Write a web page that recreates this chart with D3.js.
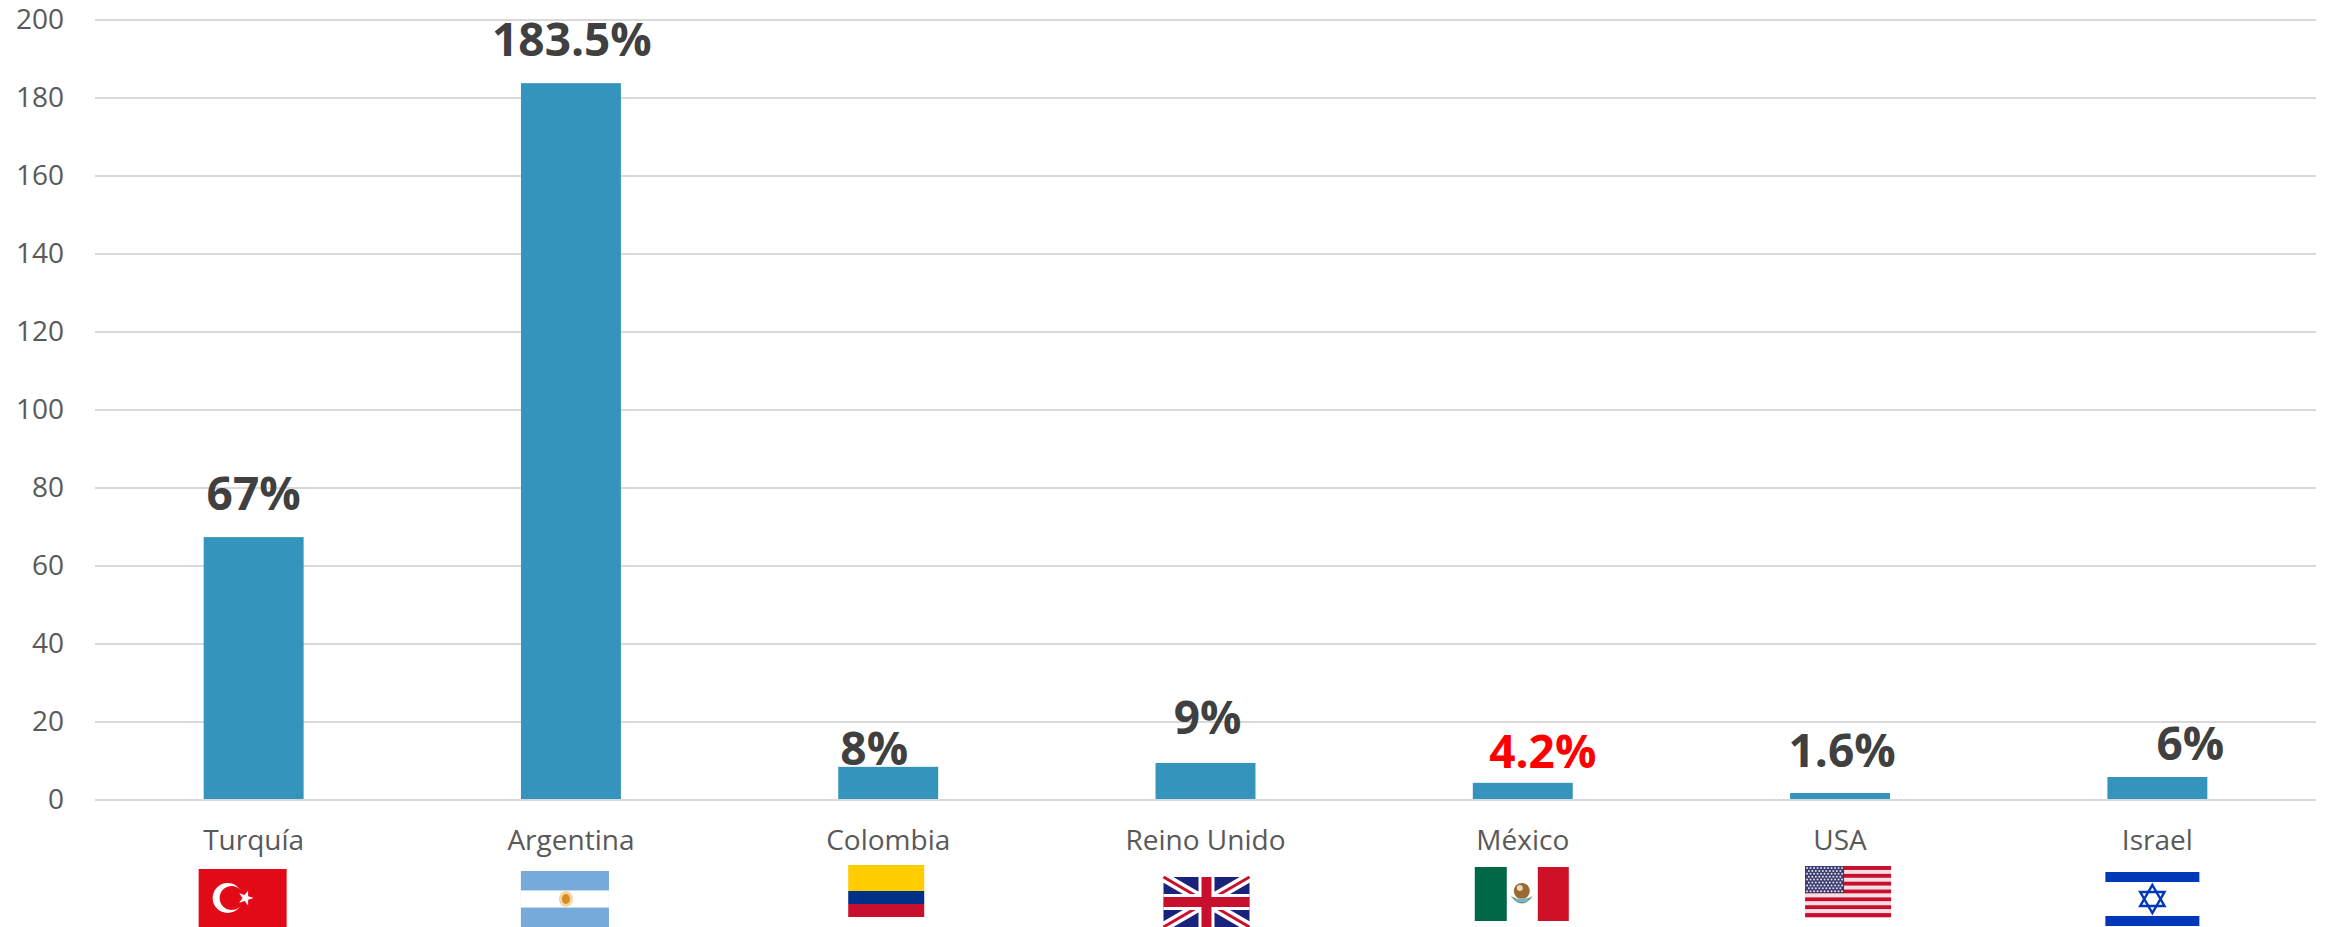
<!DOCTYPE html>
<html><head><meta charset="utf-8">
<style>html,body{margin:0;padding:0;background:#fff}svg{display:block}text{font-family:"Open Sans",sans-serif}</style>
<script src="https://cdn.jsdelivr.net/npm/d3@7"></script>
</head><body><svg id="c" width="2326" height="927"></svg>
<script>
const categories = ["Turquía","Argentina","Colombia","Reino Unido","México","USA","Israel"];
const values = [67.4,183.8,8.5,9.5,4.4,1.8,5.9];
const labels = ["67%","183.5%","8%","9%","4.2%","1.6%","6%"];
const yTicks = [0,20,40,60,80,100,120,140,160,180,200];

// hand-placed label offsets relative to bar centre / bar top (as in the source chart)
const labelOffset = [[0,-27],[1,-27],[-14,-2],[2,-29],[20,-15],[2,-26],[33,-17]];
// flag boxes relative to band centre, and top / height in page pixels
const flagBox = {
 "Turquía":[-55,88,869,58],"Argentina":[-50,88,871,56],"Colombia":[-40,76,865,52],
 "Reino Unido":[-42,86,877,50],"México":[-48,94,867,54],"USA":[-35,86,866,51],"Israel":[-52,94,871,56]};

const svg = d3.select("#c");
const x = d3.scaleBand().domain(categories).range([95,2316]).paddingInner(0.685).paddingOuter(0.3425);
const y = d3.scaleLinear().domain([0,200]).range([800,20]);

// grid + y axis
const gy = svg.append("g").attr("transform","translate(95,0)")
  .call(d3.axisLeft(y).offset(0).tickValues(yTicks).tickSize(-2221).tickPadding(31));
gy.select(".domain").remove();
gy.selectAll("line").attr("stroke","#d9d9d9").attr("stroke-width",2);
gy.selectAll("text").attr("fill","#595959").style("font-size","28px").style("font-family",'"Open Sans",sans-serif');

// x axis
const gx = svg.append("g").attr("transform","translate(0,800)")
  .call(d3.axisBottom(x).offset(0).tickSize(0).tickPadding(30));
gx.select(".domain").remove();
gx.selectAll("text").attr("fill","#595959").style("font-size","28px").style("font-family",'"Open Sans",sans-serif');

// bars
svg.append("g").selectAll("rect").data(categories).join("rect")
  .attr("x",d=>x(d)).attr("width",x.bandwidth())
  .attr("y",(d,i)=>y(values[i])).attr("height",(d,i)=>y(0)-y(values[i])-1)
  .attr("fill","#3594bb");

// value labels
svg.append("g").selectAll("text").data(categories).join("text")
  .attr("x",(d,i)=>x(d)+x.bandwidth()/2+labelOffset[i][0])
  .attr("y",(d,i)=>y(values[i])+labelOffset[i][1])
  .attr("text-anchor","middle").attr("font-weight",700).attr("font-size",46)
  .attr("fill",d=>d==="México"?"#ff0000":"#404040")
  .text((d,i)=>labels[i]);

// flags
const starPath = (r,inner=0.382)=>d3.lineRadial().curve(d3.curveLinearClosed)
  (d3.range(10).map(i=>[i*Math.PI/5, i%2?r*inner:r]));
const drawers = {
 "Turquía":(g,w,h)=>{
  g.append("rect").attr("width",w).attr("height",h).attr("fill","#e30a17");
  g.append("circle").attr("cx",29).attr("cy",29).attr("r",15).attr("fill","#fff");
  g.append("circle").attr("cx",33).attr("cy",29).attr("r",12).attr("fill","#e30a17");
  g.append("path").attr("d",starPath(8)).attr("transform","translate(47,29) rotate(90)").attr("fill","#fff");
 },
 "Argentina":(g,w,h)=>{
  g.append("rect").attr("width",w).attr("height",h).attr("fill","#75aadb");
  g.append("rect").attr("y",19).attr("width",w).attr("height",18).attr("fill","#fff");
  g.append("rect").attr("y",19).attr("width",w).attr("height",1).attr("fill","#c4dcef");
  g.append("rect").attr("y",36).attr("width",w).attr("height",1).attr("fill","#c4dcef");
  g.append("ellipse").attr("cx",45).attr("cy",28).attr("rx",7).attr("ry",8).attr("fill","#f3d6a2");
  g.append("ellipse").attr("cx",45).attr("cy",28).attr("rx",4).attr("ry",5).attr("fill","#d98c1f");
 },
 "Colombia":(g,w,h)=>{
  g.append("rect").attr("width",w).attr("height",26).attr("fill","#ffcd00");
  g.append("rect").attr("y",26).attr("width",w).attr("height",13).attr("fill","#003087");
  g.append("rect").attr("y",39).attr("width",w).attr("height",13).attr("fill","#c8102e");
 },
 "Reino Unido":(g,w,h)=>{
  g.append("rect").attr("width",w).attr("height",h).attr("fill","#1a237b");
  const diag=[[0,0,w,h],[0,h,w,0]];
  g.selectAll(".dw").data(diag).join("line").attr("x1",d=>d[0]).attr("y1",d=>d[1]).attr("x2",d=>d[2]).attr("y2",d=>d[3]).attr("stroke","#fff").attr("stroke-width",10);
  g.selectAll(".dr").data(diag).join("line").attr("class","dr").attr("x1",d=>d[0]).attr("y1",d=>d[1]).attr("x2",d=>d[2]).attr("y2",d=>d[3]).attr("stroke","#c8102e").attr("stroke-width",3);
  g.append("rect").attr("x",w/2-8).attr("width",16).attr("height",h).attr("fill","#fff");
  g.append("rect").attr("y",h/2-8).attr("width",w).attr("height",16).attr("fill","#fff");
  g.append("rect").attr("x",w/2-5).attr("width",10).attr("height",h).attr("fill","#c8102e");
  g.append("rect").attr("y",h/2-5).attr("width",w).attr("height",10).attr("fill","#c8102e");
 },
 "México":(g,w,h)=>{
  g.append("rect").attr("width",32).attr("height",h).attr("fill","#006847");
  g.append("rect").attr("x",63).attr("width",31).attr("height",h).attr("fill","#ce1126");
  g.append("ellipse").attr("cx",47).attr("cy",24).attr("rx",8).attr("ry",8).attr("fill","#9a6a35");
  g.append("ellipse").attr("cx",45).attr("cy",21).attr("rx",3).attr("ry",3).attr("fill","#e8d9bd");
  g.append("path").attr("d","M36,29 Q47,44 58,29 Q47,36 36,29Z").attr("fill","#5f9c7a");
  g.append("ellipse").attr("cx",47).attr("cy",33).attr("rx",6).attr("ry",2).attr("fill","#7fb4c8");
 },
 "USA":(g,w,h)=>{
  d3.range(13).forEach(i=>g.append("rect").attr("y",i*h/13).attr("width",w).attr("height",h/13+0.3).attr("fill",i%2?"#f3dfe2":"#c8102e"));
  g.append("rect").attr("width",39).attr("height",27).attr("fill","#3c3b6e");
  d3.range(9).forEach(r=>d3.range(r%2?10:11).forEach(c=>g.append("circle")
    .attr("cx",2+c*3.5+(r%2?1.75:0)).attr("cy",2+r*2.9).attr("r",1).attr("fill","#dfe1ee")));
 },
 "Israel":(g,w,h)=>{
  g.append("rect").attr("y",1).attr("width",w).attr("height",10).attr("fill","#0038b8");
  g.append("rect").attr("y",45).attr("width",w).attr("height",10).attr("fill","#0038b8");
  const tri=d3.lineRadial().curve(d3.curveLinearClosed)(d3.range(3).map(i=>[i*2*Math.PI/3,14]));
  g.append("path").attr("d",tri).attr("transform",`translate(47,28)`).attr("fill","none").attr("stroke","#0038b8").attr("stroke-width",2.5);
  g.append("path").attr("d",tri).attr("transform",`translate(47,28) rotate(180)`).attr("fill","none").attr("stroke","#0038b8").attr("stroke-width",2.5);
 }
};
categories.forEach(c=>{
  const [dx,w,top,h]=flagBox[c];
  const g=svg.append("g").attr("transform",`translate(${x(c)+x.bandwidth()/2+dx},${top})`);
  drawers[c](g,w,h);
});
</script></body></html>
